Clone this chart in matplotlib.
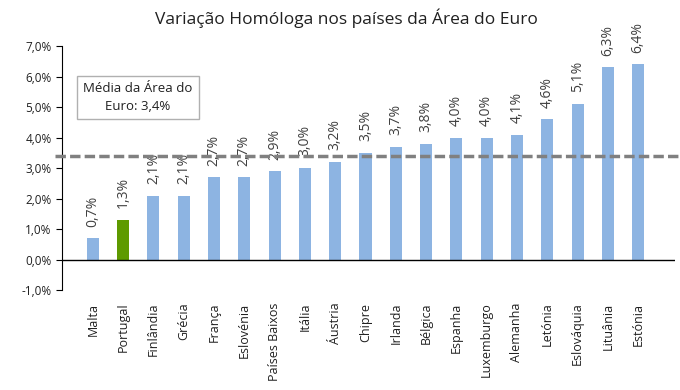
import matplotlib
matplotlib.use('Agg')
import matplotlib.pyplot as plt

plt.rcParams['font.family'] = ['Open Sans', 'DejaVu Sans']

paises = ['Malta', 'Portugal', 'Finlândia', 'Grécia', 'França', 'Eslovénia',
          'Países Baixos', 'Itália', 'Áustria', 'Chipre', 'Irlanda', 'Bélgica',
          'Espanha', 'Luxemburgo', 'Alemanha', 'Letónia', 'Eslováquia',
          'Lituânia', 'Estónia']
variacao = [0.7, 1.3, 2.1, 2.1, 2.7, 2.7, 2.9, 3.0, 3.2, 3.5, 3.7, 3.8,
            4.0, 4.0, 4.1, 4.6, 5.1, 6.3, 6.4]
media_euro = 3.4
yticks = [-1, 0, 1, 2, 3, 4, 5, 6, 7]

azul = '#8DB4E2'
verde = '#5E9A00'
cores = [verde if p == 'Portugal' else azul for p in paises]

fig = plt.figure(figsize=(6.8, 3.9), dpi=100)
ax = fig.add_axes([0.091, 0.256, 0.901, 0.626])

x = list(range(len(paises)))
ax.bar(x, variacao, width=0.4, color=cores, zorder=2)

for xi, v in zip(x, variacao):
    ax.text(xi, v + 0.38, f'{v:.1f}%'.replace('.', ','), rotation=90,
            ha='center', va='bottom', fontsize=10, color='#404040', zorder=3)

# linha da média (passa um pouco à esquerda do eixo, como no original)
ax.plot([-1.25, len(paises) + 0.3], [media_euro, media_euro], color='#808080',
        lw=2.5, ls=(0, (3, 1.2)), zorder=4, clip_on=False)
ax.axhline(0, color='black', lw=1, zorder=3)

ax.set_xlim(-1.02, len(paises) - 1 + 1.2)
ax.set_ylim(-1, 7)
ax.set_yticks(yticks)
ax.set_yticklabels([f'{t:.1f}%'.replace('.', ',') for t in yticks],
                   fontsize=8.5, color='#202020')
ax.set_xticks(x)
ax.set_xticklabels(paises, rotation=90, fontsize=9, color='#202020')
ax.tick_params(axis='x', length=0, pad=9)
ax.tick_params(axis='y', length=4, direction='out')

for s in ['top', 'right', 'bottom']:
    ax.spines[s].set_visible(False)

ax.text(1.49, 5.31, 'Média da Área do\nEuro: 3,4%', ha='center', va='center',
        fontsize=9.5, color='#202020', linespacing=1.55, zorder=5,
        bbox=dict(boxstyle='square,pad=0.45', fc='white', ec='#B0B0B0', lw=1))

fig.text(0.51, 0.953, 'Variação Homóloga nos países da Área do Euro',
         ha='center', va='center', fontsize=12.5, color='#202020')

fig.savefig('out.png', dpi=100)
